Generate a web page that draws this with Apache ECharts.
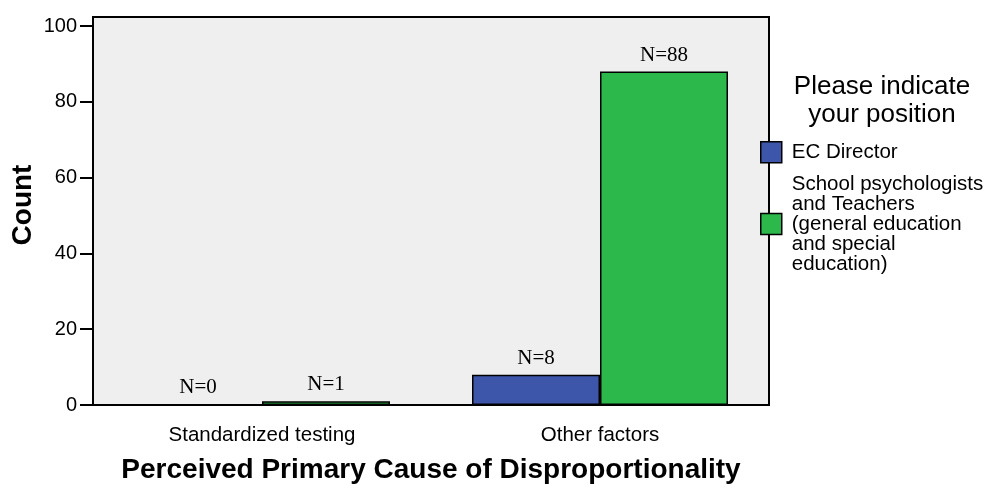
<!DOCTYPE html>
<html><head><meta charset="utf-8">
<script src="https://cdn.jsdelivr.net/npm/echarts@6/dist/echarts.min.js"></script>
<style>html,body{margin:0;padding:0;background:#fff;}#c{width:993px;height:491px;}</style>
</head><body><div id="c"></div>
<script>
const categories = ['Standardized testing', 'Other factors'];
const seriesNames = ['EC Director', 'School psychologists and Teachers (general education and special education)'];
const legendLabels = ['EC Director', 'School psychologists\nand Teachers\n(general education\nand special\neducation)'];
const ecDirector = [0, 8];
const psychTeachers = [1, 88];
const yTicks = [0, 20, 40, 60, 80, 100];
const colors = ['#3d56aa', '#2db84b'];

const chart = echarts.init(document.getElementById('c'));
const F = 'Liberation Sans, Arial, sans-serif';
function barSeries(i, data) {
  return {
    name: seriesNames[i], type: 'bar', data: data, barWidth: 128, barGap: '0%',
    itemStyle: { color: colors[i], borderColor: '#000', borderWidth: 1.5 },
    label: { show: true, position: 'top', distance: 6, formatter: 'N={c}',
      fontFamily: 'Liberation Serif, Times New Roman, serif', fontSize: 21, color: '#000' }
  };
}
chart.setOption({
  animation: false,
  textStyle: { fontFamily: F },
  grid: { left: 93, right: 224, top: 17, bottom: 86, show: true, containLabel: false,
    outerBoundsMode: 'none',
    backgroundColor: '#efefef', borderColor: '#000', borderWidth: 2 },
  graphic: [{ type: 'text', x: 882, y: 73,
    style: { text: 'Please indicate\nyour position', fontSize: 26, lineHeight: 28,
      fontFamily: F, fill: '#000', textAlign: 'center', align: 'center' } }],
  legend: {
    orient: 'vertical', left: 760, top: 141, padding: 0, itemWidth: 21, itemHeight: 21, itemGap: 10,
    icon: 'rect', selectedMode: false,
    itemStyle: { borderColor: '#000', borderWidth: 1.5 },
    formatter: function (n) { return legendLabels[seriesNames.indexOf(n)]; },
    textStyle: { fontSize: 20.5, lineHeight: 20, color: '#000', fontFamily: F, padding: [0, 0, 0, 5] }
  },
  xAxis: {
    type: 'category', data: categories,
    axisLine: { lineStyle: { color: '#000', width: 2 } },
    axisTick: { alignWithLabel: true, length: 13, lineStyle: { color: '#000', width: 2 } },
    axisLabel: { fontSize: 20.5, color: '#000', margin: 20 },
    name: 'Perceived Primary Cause of Disproportionality', nameLocation: 'middle', nameGap: 51,
    nameMoveOverlap: false,
    nameTextStyle: { fontSize: 28, fontWeight: 'bold', color: '#000' }
  },
  yAxis: {
    type: 'value', min: 0, max: 102.4, interval: 20,
    splitLine: { show: false },
    axisLine: { show: true, lineStyle: { color: '#000', width: 2 } },
    axisTick: { show: true, length: 13, lineStyle: { color: '#000', width: 2 }, customValues: yTicks },
    axisLabel: { fontSize: 20, color: '#000', margin: 16, customValues: yTicks },
    name: 'Count', nameLocation: 'middle', nameGap: 56, nameRotate: 90, nameMoveOverlap: false,
    nameTextStyle: { fontSize: 28, fontWeight: 'bold', color: '#000', padding: [0, 0, 0, 12] }
  },
  series: [barSeries(0, ecDirector), barSeries(1, psychTeachers)]
});
</script></body></html>
